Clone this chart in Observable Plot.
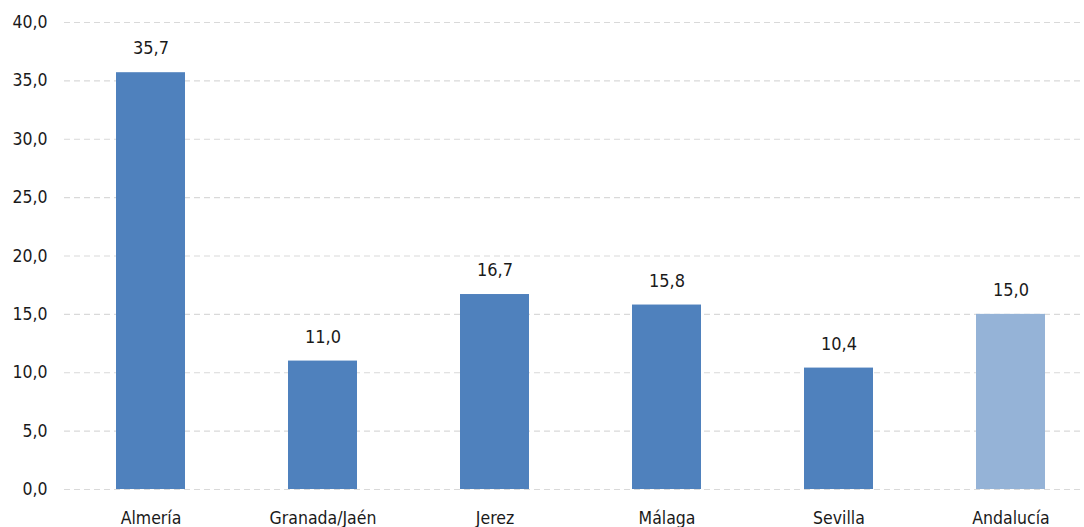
<!DOCTYPE html>
<html>
<head>
<meta charset="utf-8">
<script src="https://cdn.jsdelivr.net/npm/d3@7"></script>
<script src="https://cdn.jsdelivr.net/npm/@observablehq/plot@0.6"></script>
<style>
  html, body { margin: 0; padding: 0; background: #fff; }
  #chart svg { display: block; font-family: "DejaVu Sans Condensed", "DejaVu Sans", sans-serif; }
</style>
</head>
<body>
<div id="chart"></div>
<script>
const categories = ["Almería", "Granada/Jaén", "Jerez", "Málaga", "Sevilla", "Andalucía"];
const values = [35.7, 11.0, 16.7, 15.8, 10.4, 15.0];
const colors = ["#4f81bd", "#4f81bd", "#4f81bd", "#4f81bd", "#4f81bd", "#95b3d7"];
const yTicks = [0, 5, 10, 15, 20, 25, 30, 35, 40];

const data = categories.map((c, i) => ({cat: c, value: values[i], color: colors[i]}));
const fmt = v => v.toFixed(1).replace(".", ",");

const chart = Plot.plot({
  width: 1084,
  height: 527,
  marginLeft: 64,
  marginRight: -13,
  marginTop: 22,
  marginBottom: 38,
  style: {fontSize: "17px", color: "#1a1a1a", background: "#fff"},
  x: {domain: categories, paddingInner: 0.6, paddingOuter: 0.3, label: null, tickSize: 0, tickPadding: 22},
  y: {domain: [0, 40], ticks: yTicks, tickFormat: fmt, label: null, tickSize: 0, tickPadding: 17},
  marks: [
    Plot.ruleY(yTicks, {stroke: "#d9d9d9", strokeWidth: 1.2, strokeDasharray: "6,4"}),
    Plot.barY(data, {x: "cat", y: "value", fill: "color"}),
    Plot.text(data, {x: "cat", y: "value", text: d => fmt(d.value), dy: -24, fontSize: 18, fill: "#1a1a1a"}),
    Plot.axisY({ticks: yTicks, tickFormat: fmt, tickSize: 0, tickPadding: 17, fontSize: 17.5, label: null}),
    Plot.axisX({tickSize: 0, tickPadding: 22, fontSize: 17.5, label: null})
  ]
});
document.getElementById("chart").appendChild(chart);
</script>
</body>
</html>
